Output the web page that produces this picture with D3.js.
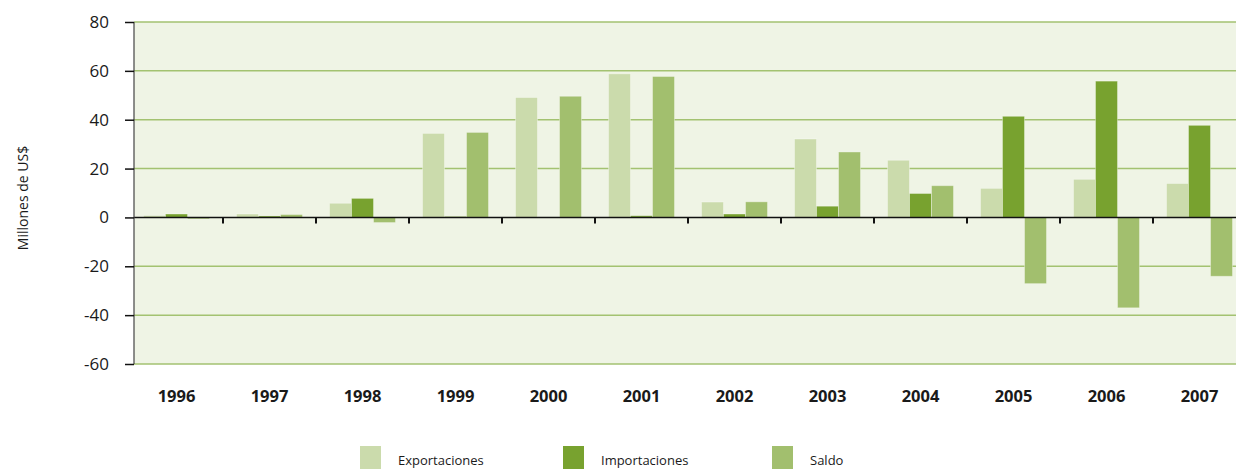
<!DOCTYPE html>
<html>
<head>
<meta charset="utf-8">
<script src="https://cdn.jsdelivr.net/npm/d3@7/dist/d3.min.js"></script>
<style>
  html, body { margin: 0; padding: 0; background: #fff; }
  svg { display: block; font-family: "Open Sans", "Noto Sans", sans-serif; }
</style>
</head>
<body>
<svg id="chart" width="1236" height="469"></svg>
<script>
// Balanza comercial, millones de US$
const years = ["1996","1997","1998","1999","2000","2001","2002","2003","2004","2005","2006","2007"];
const exportaciones = [0.8, 1.4, 5.8, 34.4, 49.1, 58.8, 6.3, 32.1, 23.4, 11.9, 15.6, 13.9];
const importaciones = [1.4, 0.6, 7.8, 0.4, 0.2, 0.7, 1.4, 4.6, 9.8, 41.4, 55.8, 37.7];
const saldo = [-0.6, 1.2, -2.1, 34.8, 49.6, 57.7, 6.4, 26.8, 13.0, -27.1, -37.0, -24.1];
const seriesNames = ["Exportaciones", "Importaciones", "Saldo"];
const seriesColors = ["#cbdbac", "#78a22f", "#a2bf6e"];
const yTicks = [-60, -40, -20, 0, 20, 40, 60, 80];

const seriesValues = [exportaciones, importaciones, saldo];

const svg = d3.select("#chart");
const plotLeft = 134, plotRight = 1236, plotTop = 22, plotBottom = 364;

const y = d3.scaleLinear().domain([-60, 80]).range([plotBottom, plotTop]);
const x = d3.scaleBand().domain(years).range([130, 1246]).paddingInner(0.29).paddingOuter(0.145);
const xStep = x.step();
const xSub = d3.scaleBand().domain(d3.range(seriesNames.length)).range([0, x.bandwidth()]);

// plot background
svg.append("rect")
  .attr("x", plotLeft).attr("y", plotTop)
  .attr("width", plotRight - plotLeft).attr("height", plotBottom - plotTop)
  .attr("fill", "#eff4e5");

// horizontal gridlines
svg.append("g")
  .selectAll("line")
  .data(yTicks.filter(d => d !== 0))
  .join("line")
  .attr("x1", plotLeft).attr("x2", plotRight)
  .attr("y1", d => y(d)).attr("y2", d => y(d))
  .attr("stroke", "#a3c271")
  .attr("stroke-width", 1.5);

// bars
const groups = svg.append("g")
  .selectAll("g")
  .data(years)
  .join("g")
  .attr("transform", d => `translate(${x(d)},0)`);

groups.selectAll("rect")
  .data((d, i) => seriesValues.map((vals, s) => ({ s, v: vals[i] })))
  .join("rect")
  .attr("x", d => xSub(d.s))
  .attr("width", xSub.bandwidth())
  .attr("y", d => y(Math.max(0, d.v)))
  .attr("height", d => Math.abs(y(d.v) - y(0)))
  .attr("fill", d => seriesColors[d.s])
  .attr("stroke", "rgba(255,255,255,0.35)")
  .attr("stroke-width", 1);

// zero line with category ticks
svg.append("line")
  .attr("x1", plotLeft).attr("x2", plotRight)
  .attr("y1", y(0)).attr("y2", y(0))
  .attr("stroke", "#111").attr("stroke-width", 1.5);

svg.append("g")
  .selectAll("line")
  .data(years.slice(1))
  .join("line")
  .attr("x1", d => x(d) - xStep * x.paddingInner() / 2)
  .attr("x2", d => x(d) - xStep * x.paddingInner() / 2)
  .attr("y1", y(0)).attr("y2", y(0) + 6)
  .attr("stroke", "#111").attr("stroke-width", 2);

// y axis (plain hyphen for negatives)
const yAxis = d3.axisLeft(y).tickValues(yTicks).tickSize(9).tickPadding(16)
  .tickFormat(d => String(d));
const yg = svg.append("g")
  .attr("transform", `translate(${plotLeft},0)`)
  .call(yAxis);
yg.select(".domain").attr("stroke", "#444").attr("stroke-width", 1.2)
  .attr("d", `M0,${plotTop}V${plotBottom}`);
yg.selectAll(".tick line").attr("stroke", "#111").attr("stroke-width", 1.5);
yg.selectAll(".tick text")
  .attr("font-size", 17)
  .attr("fill", "#1a1a1a")
  .attr("font-family", "'Open Sans', sans-serif");

// y axis title
svg.append("text")
  .attr("transform", `translate(28,${(plotTop + plotBottom) / 2 + 5}) rotate(-90)`)
  .attr("text-anchor", "middle")
  .attr("font-size", 14)
  .attr("fill", "#1a1a1a")
  .text("Millones de US$");

// x category labels
svg.append("g")
  .selectAll("text")
  .data(years)
  .join("text")
  .attr("x", d => x(d) + x.bandwidth() / 2)
  .attr("y", 402)
  .attr("text-anchor", "middle")
  .attr("font-size", 16.5)
  .attr("font-weight", "bold")
  .attr("fill", "#1a1a1a")
  .text(d => d);

// legend
const legendX = [360, 563, 772];
const legend = svg.append("g")
  .selectAll("g")
  .data(seriesNames)
  .join("g")
  .attr("transform", (d, i) => `translate(${legendX[i]},446)`);
legend.append("rect")
  .attr("width", 21).attr("height", 24)
  .attr("fill", (d, i) => seriesColors[i]);
legend.append("text")
  .attr("x", 38).attr("y", 19)
  .attr("font-size", 13)
  .attr("fill", "#1a1a1a")
  .text(d => d);
</script>
</body>
</html>
